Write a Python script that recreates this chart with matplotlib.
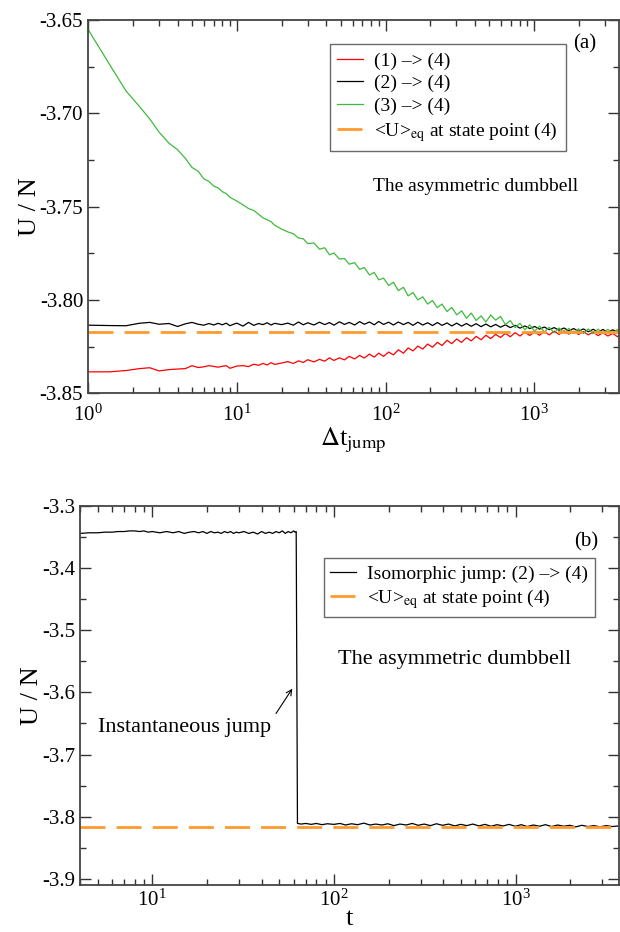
import numpy as np
import matplotlib
matplotlib.use("Agg")
import matplotlib.pyplot as plt
from matplotlib.ticker import MultipleLocator, LogLocator, NullFormatter

plt.rcParams['font.family'] = ['Liberation Serif', 'DejaVu Serif']
plt.rcParams['mathtext.fontset'] = 'stix'

# ---- panel (a) data ----
dt_jump = [1, 1.4, 1.8, 2.2, 2.6, 3.0, 3.5, 4.0, 4.5, 5, 5.5, 6, 6.5, 7, 7.5, 8, 8.5, 9, 9.5, 10,
           11, 12, 13, 14, 15, 16, 17, 18, 20, 22, 24, 26, 28, 30, 33, 36, 39, 42, 45, 49,
           53, 57, 62, 67, 72, 78, 84, 90, 97, 105, 113, 122, 132, 142, 153, 165, 178, 192, 207, 223,
           240, 259, 279, 301, 325, 350, 377, 407, 439, 473, 510, 550, 593, 640, 690, 744, 802, 865, 933, 1006,
           1085, 1170, 1262, 1361, 1468, 1583, 1707, 1841, 1985, 2141, 2309, 2490, 2685, 2896, 3123, 3368, 3632, 3700]

u_1to4 = [-3.8385, -3.8385, -3.8378, -3.8368, -3.8363, -3.8380, -3.8373, -3.8370, -3.8368, -3.8352,
          -3.8362, -3.8358, -3.8352, -3.8356, -3.8360, -3.8355, -3.8352, -3.8366, -3.8360, -3.8354,
          -3.8352, -3.8357, -3.8344, -3.8350, -3.8340, -3.8348, -3.8336, -3.8345, -3.8338, -3.8330,
          -3.8340, -3.8326, -3.8335, -3.8320, -3.8332, -3.8318, -3.8328, -3.8310, -3.8324, -3.8310,
          -3.8321, -3.8302, -3.8316, -3.8297, -3.8311, -3.8290, -3.8306, -3.8285, -3.8302, -3.8279,
          -3.8294, -3.8267, -3.8285, -3.8257, -3.8273, -3.8247, -3.8263, -3.8236, -3.8253, -3.8227,
          -3.8244, -3.8216, -3.8234, -3.8209, -3.8227, -3.8202, -3.8219, -3.8195, -3.8213, -3.8189,
          -3.8207, -3.8184, -3.8201, -3.8179, -3.8197, -3.8175, -3.8193, -3.8173, -3.8190, -3.8171,
          -3.8189, -3.8169, -3.8187, -3.8167, -3.8185, -3.8165, -3.8183, -3.8167, -3.8185, -3.8169,
          -3.8187, -3.8171, -3.8191, -3.8175, -3.8193, -3.8179, -3.8197, -3.8190]

u_2to4 = [-3.8135, -3.8137, -3.8138, -3.8125, -3.8120, -3.8130, -3.8126, -3.8142, -3.8128, -3.8120,
          -3.8130, -3.8135, -3.8126, -3.8134, -3.8125, -3.8133, -3.8124, -3.8138, -3.8130, -3.8124,
          -3.8140, -3.8120, -3.8136, -3.8126, -3.8132, -3.8122, -3.8134, -3.8125, -3.8132, -3.8124,
          -3.8135, -3.8118, -3.8133, -3.8122, -3.8134, -3.8119, -3.8132, -3.8121, -3.8135, -3.8117,
          -3.8131, -3.8120, -3.8134, -3.8116, -3.8130, -3.8118, -3.8133, -3.8115, -3.8131, -3.8119,
          -3.8134, -3.8118, -3.8132, -3.8120, -3.8136, -3.8119, -3.8134, -3.8122, -3.8137, -3.8121,
          -3.8136, -3.8123, -3.8139, -3.8124, -3.8140, -3.8126, -3.8141, -3.8127, -3.8143, -3.8129,
          -3.8144, -3.8131, -3.8146, -3.8133, -3.8148, -3.8136, -3.8151, -3.8139, -3.8153, -3.8142,
          -3.8156, -3.8145, -3.8159, -3.8148, -3.8162, -3.8150, -3.8165, -3.8153, -3.8168, -3.8155,
          -3.8170, -3.8157, -3.8172, -3.8158, -3.8173, -3.8160, -3.8171, -3.8162]

u_3to4 = [-3.6550, -3.6740, -3.6880, -3.6960, -3.7030, -3.7100, -3.7160, -3.7195, -3.7240, -3.7290,
          -3.7310, -3.7350, -3.7365, -3.7390, -3.7400, -3.7420, -3.7430, -3.7450, -3.7460, -3.7470,
          -3.7490, -3.7510, -3.7520, -3.7540, -3.7560, -3.7570, -3.7580, -3.7600, -3.7620, -3.7635,
          -3.7645, -3.7668, -3.7672, -3.7698, -3.7694, -3.7728, -3.7720, -3.7758, -3.7748, -3.7781,
          -3.7778, -3.7808, -3.7800, -3.7836, -3.7826, -3.7866, -3.7852, -3.7892, -3.7883, -3.7922,
          -3.7905, -3.7950, -3.7932, -3.7978, -3.7960, -3.8000, -3.7983, -3.8022, -3.8003, -3.8041,
          -3.8022, -3.8062, -3.8040, -3.8080, -3.8058, -3.8098, -3.8070, -3.8110, -3.8085, -3.8118,
          -3.8080, -3.8108, -3.8088, -3.8132, -3.8110, -3.8148, -3.8125, -3.8160, -3.8133, -3.8168,
          -3.8140, -3.8172, -3.8146, -3.8176, -3.8150, -3.8178, -3.8152, -3.8180, -3.8154, -3.8180,
          -3.8155, -3.8181, -3.8156, -3.8180, -3.8157, -3.8178, -3.8158, -3.8165]

u_eq = -3.817

# ---- panel (b) data ----
t_b = [4, 4.5, 5, 5.5, 6, 6.5, 7, 7.5, 8, 8.5, 9, 9.5, 10, 11, 12, 13, 14, 15, 16, 17,
       18, 19, 20, 21, 22, 23, 24, 25, 26, 27, 28, 29, 30, 32, 34, 36, 38, 40, 42, 44,
       46, 48, 50, 52, 54, 56, 58, 60, 61, 62,
       63, 66, 70, 75, 80, 86, 92, 100, 108, 116, 125, 135, 146, 158, 170, 184, 198, 214, 231, 250,
       270, 291, 314, 340, 367, 396, 428, 462, 499, 539, 582, 628, 678, 732, 791, 854, 922, 996, 1075, 1161,
       1254, 1354, 1462, 1579, 1705, 1841, 1988, 2147, 2318, 2503, 2703, 2919, 3152, 3404, 3700]

u_b = [-3.344, -3.343, -3.343, -3.342, -3.342, -3.341, -3.341, -3.340, -3.340, -3.341, -3.340, -3.342, -3.341, -3.343, -3.341, -3.343, -3.341, -3.344, -3.342, -3.341,
       -3.343, -3.341, -3.344, -3.341, -3.343, -3.342, -3.344, -3.341, -3.343, -3.341, -3.344, -3.342, -3.343, -3.341, -3.344, -3.342, -3.345, -3.341, -3.344, -3.342,
       -3.344, -3.341, -3.343, -3.340, -3.344, -3.341, -3.343, -3.340, -3.342, -3.341,
       -3.811, -3.812, -3.811, -3.8125, -3.811, -3.813, -3.8115, -3.8125, -3.811, -3.8135, -3.8115, -3.813, -3.8105, -3.8135, -3.812, -3.8135, -3.8115, -3.8145, -3.812, -3.8135,
       -3.811, -3.814, -3.812, -3.8145, -3.8115, -3.8140, -3.8120, -3.8150, -3.8125, -3.8145, -3.8120, -3.8150, -3.8125, -3.8155, -3.8130, -3.8150, -3.8125, -3.8155, -3.8130, -3.8160,
       -3.8135, -3.8155, -3.8130, -3.8160, -3.8135, -3.8155, -3.8140, -3.8165, -3.8140, -3.8160, -3.8145, -3.8165, -3.8145, -3.8160, -3.8150]

orange = '#ff9a2e'
green = '#3dbb3d'

fig = plt.figure(figsize=(6.2, 9.32), dpi=100)
ax1 = fig.add_axes([0.142, 0.578, 0.856, 0.4005])
ax2 = fig.add_axes([0.129, 0.0505, 0.869, 0.4065])

for ax in (ax1, ax2):
    ax.set_xscale('log')
    ax.tick_params(which='both', direction='in', top=True, right=True, labelsize=15, colors='#333333')
    ax.tick_params(which='major', length=8, width=1)
    ax.tick_params(which='minor', length=4, width=1)
    for s in ax.spines.values():
        s.set_linewidth(1.3)
        s.set_color('#444444')
    ax.xaxis.set_major_locator(LogLocator(base=10))
    ax.xaxis.set_minor_locator(LogLocator(base=10, subs=np.arange(2, 10)))
    ax.xaxis.set_minor_formatter(NullFormatter())
    for lab in ax.get_xticklabels() + ax.get_yticklabels():
        lab.set_color('black')
ax1.tick_params(axis='x', which='major', pad=8)
ax2.tick_params(axis='x', which='major', pad=3)

# panel (a)
ax1.plot(dt_jump, u_1to4, color='red', lw=0.9, label='(1) –> (4)')
ax1.plot(dt_jump, u_2to4, color='black', lw=0.9, label='(2) –> (4)')
ax1.plot(dt_jump, u_3to4, color=green, lw=0.9, label='(3) –> (4)')
ax1.axhline(u_eq, color=orange, lw=2, dashes=(9, 4), label=r'<U>$_{\rm eq}$ at state point (4)')
ax1.set_xlim(1, 3700)
ax1.set_ylim(-3.85, -3.65)
ax1.yaxis.set_major_locator(MultipleLocator(0.05))
ax1.yaxis.set_minor_locator(MultipleLocator(0.025))
ax1.yaxis.set_major_formatter(matplotlib.ticker.FormatStrFormatter('%.2f'))
ax1.set_ylabel('U / N', fontsize=19, labelpad=-1)
ax1.set_xlabel(r'$\Delta$t$_{\rm jump}$', fontsize=19, labelpad=0)
leg1 = ax1.legend(loc='upper left', bbox_to_anchor=(0.455, 0.935), fontsize=14, frameon=True,
                  fancybox=False, edgecolor='#444444', handlelength=1.3, handletextpad=0.6,
                  labelspacing=0.25, borderpad=0.4, borderaxespad=0)
leg1.get_frame().set_linewidth(1.0)
ax1.text(0.935, 0.935, '(a)', transform=ax1.transAxes, fontsize=15, ha='center', va='center')
ax1.text(0.73, 0.555, 'The asymmetric dumbbell', transform=ax1.transAxes, fontsize=14,
         ha='center', va='center')

# panel (b)
ax2.plot(t_b, u_b, color='black', lw=0.9, label='Isomorphic jump: (2) –> (4)')
ax2.axhline(u_eq, color=orange, lw=2, dashes=(9, 4), label=r'<U>$_{\rm eq}$ at state point (4)')
ax2.set_xlim(4, 3700)
ax2.set_ylim(-3.91, -3.3)
ax2.yaxis.set_major_locator(MultipleLocator(0.1))
ax2.yaxis.set_minor_locator(MultipleLocator(0.05))
ax2.yaxis.set_major_formatter(matplotlib.ticker.FormatStrFormatter('%.1f'))
ax2.set_ylabel('U / N', fontsize=19, labelpad=-1)
ax2.set_xlabel('t', fontsize=19)
ax2.xaxis.set_label_coords(0.5, -0.06)
leg2 = ax2.legend(loc='upper left', bbox_to_anchor=(0.452, 0.862), fontsize=14, frameon=True,
                  fancybox=False, edgecolor='#444444', handlelength=1.3, handletextpad=0.6,
                  labelspacing=0.2, borderpad=0.35, borderaxespad=0)
leg2.get_frame().set_linewidth(1.0)
ax2.text(0.94, 0.905, '(b)', transform=ax2.transAxes, fontsize=15, ha='center', va='center')
ax2.text(0.695, 0.595, 'The asymmetric dumbbell', transform=ax2.transAxes, fontsize=16,
         ha='center', va='center')
ax2.text(15, -3.656, 'Instantaneous jump', fontsize=16, ha='center', va='center')
ax2.annotate('', xy=(59, -3.594), xytext=(48, -3.634),
             arrowprops=dict(arrowstyle='->', color='black', lw=0.8, shrinkA=0, shrinkB=0))

fig.savefig('out.png', dpi=100)
